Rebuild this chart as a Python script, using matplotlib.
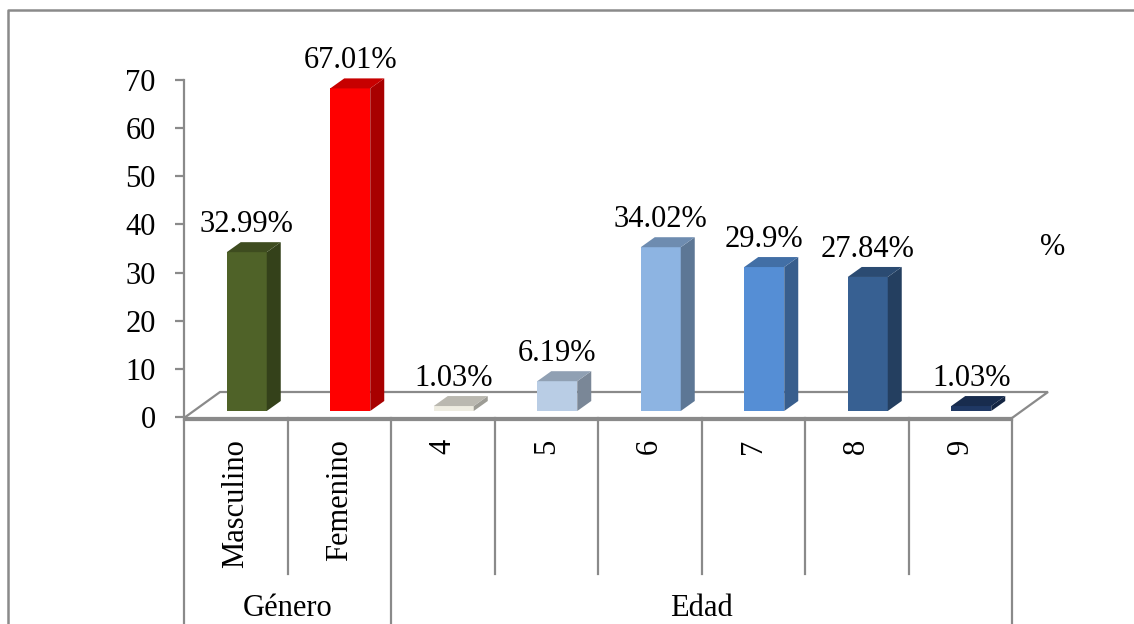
import matplotlib
matplotlib.use("Agg")
import matplotlib.pyplot as plt
from matplotlib.patches import Polygon
from matplotlib.lines import Line2D
import matplotlib.colors as mcolors
import numpy as np

plt.rcParams['font.family'] = ['Liberation Serif', 'DejaVu Serif']

categories = ["Masculino", "Femenino", "4", "5", "6", "7", "8", "9"]
groups = ["Género", "Edad"]
group_sizes = [2, 6]
values = [32.99, 67.01, 1.03, 6.19, 34.02, 29.9, 27.84, 1.03]
value_labels = ["32.99%", "67.01%", "1.03%", "6.19%", "34.02%", "29.9%", "27.84%", "1.03%"]
face_colors = ["#4F6228", "#FF0000", "#EEECE1", "#B9CDE5",
               "#8DB4E2", "#558ED5", "#376092", "#1F3864"]
y_ticks = [0, 10, 20, 30, 40, 50, 60, 70]
legend_label = "%"

W, H = 1134, 624
fig = plt.figure(figsize=(W / 100, H / 100), dpi=100)
fig.patch.set_facecolor("white")

grey = "#8A8A8A"
FS = 22

# plot area (pixels)
L, R = 184, 1012
Y0, YT = 417, 80
n = len(categories)
ax = fig.add_axes([L / W, 1 - Y0 / H, (R - L) / W, (Y0 - YT) / H])
ax.set_xlim(0, n)
ax.set_ylim(0, 70)
ax.patch.set_visible(False)
for s in ["top", "right", "bottom"]:
    ax.spines[s].set_visible(False)
ax.spines["left"].set_color(grey)
ax.spines["left"].set_linewidth(1.6)
ax.set_xticks([])
ax.set_yticks(y_ticks)
ax.tick_params(axis="y", length=6.5, width=1.6, color=grey, pad=14,
               labelsize=FS, labelcolor="black")

ppx = (R - L) / n
ppy = (Y0 - YT) / 70.0


def px(d):
    return d / ppx


def py(d):
    return d / ppy


# perspective floor
fdx, fdy = px(36), py(25)
floor = Polygon([(0, py(-1)), (n, py(-1)), (n + fdx, fdy), (fdx, fdy)],
                closed=True, facecolor="white", edgecolor=grey, lw=1.6,
                clip_on=False, zorder=1)
ax.add_patch(floor)


def shade(c, f):
    r, g, b = mcolors.to_rgb(c)
    return (r * f, g * f, b * f)


# 3D columns
hw = px(20)
ddx, ddy = px(14), py(10)
base = py(6)
for i, (v, c, lbl) in enumerate(zip(values, face_colors, value_labels)):
    xc = i + 0.5 + px(11)
    ax.bar(xc, v, width=2 * hw, bottom=base, color=c, zorder=3,
           clip_on=False, linewidth=0)
    top = base + v
    side = Polygon([(xc + hw, base), (xc + hw + ddx, base + ddy),
                    (xc + hw + ddx, top + ddy), (xc + hw, top)],
                   closed=True, facecolor=shade(c, 0.66), lw=0,
                   clip_on=False, zorder=3)
    cap = Polygon([(xc - hw, top), (xc + hw, top),
                   (xc + hw + ddx, top + ddy), (xc - hw + ddx, top + ddy)],
                  closed=True, facecolor=shade(c, 0.78), lw=0,
                  clip_on=False, zorder=3)
    ax.add_patch(side)
    ax.add_patch(cap)
    ax.annotate(lbl, (xc, top), xytext=(0, 14.4), textcoords="offset points",
                ha="center", va="baseline", fontsize=FS, zorder=4,
                annotation_clip=False)

# multi-level category table
TT = 418
tab = fig.add_axes([L / W, 0, (R - L) / W, (H - TT) / H])
tab.set_xlim(0, n)
tab.set_ylim(H - TT, 0)
tab.axis("off")
tab.plot([0, n], [1.5, 1.5], color=grey, lw=1.6, clip_on=False)
bounds = np.concatenate([[0], np.cumsum(group_sizes)])
for b in bounds:
    tab.plot([b, b], [0, H - TT], color=grey, lw=1.6, clip_on=False)
for k in range(1, n):
    if k not in bounds:
        tab.plot([k, k], [0, 156], color=grey, lw=1.6, clip_on=False)
for i, cat in enumerate(categories):
    tab.text(i + 0.5, 21, cat, rotation=90, ha="center", va="top",
             fontsize=FS)
for g, a, b in zip(groups, bounds[:-1], bounds[1:]):
    tab.text((a + b) / 2, 198, g, ha="center", va="baseline", fontsize=FS)

# legend entry
fig.text(1053 / W, 1 - 248 / H, legend_label, ha="center", va="center",
         fontsize=FS)

# chart frame
fig.add_artist(Line2D([8 / W, 8 / W, 1], [0, 1 - 10 / H, 1 - 10 / H],
                      transform=fig.transFigure, color=grey, lw=1.8))

fig.savefig("out.png", dpi=100)
